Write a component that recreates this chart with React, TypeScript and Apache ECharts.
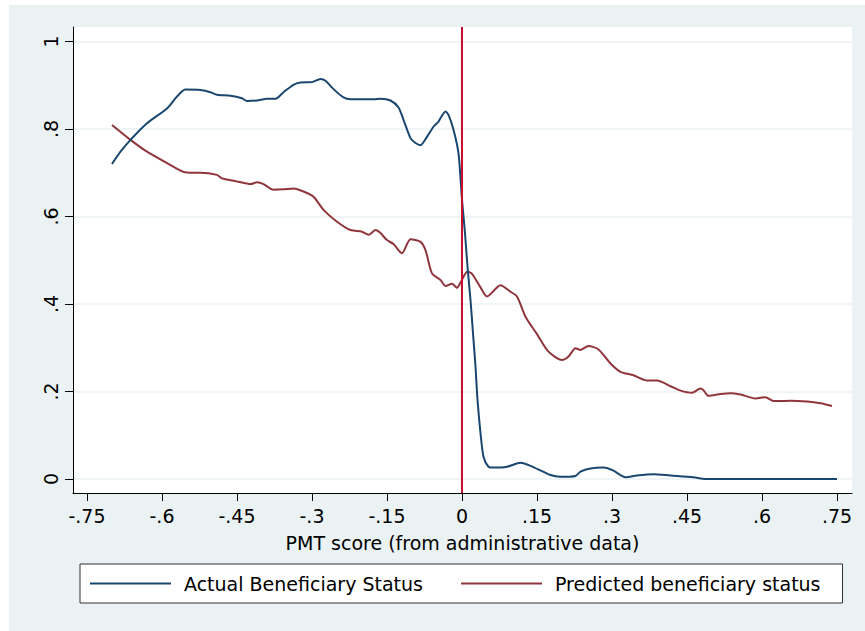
import React, { useEffect, useRef } from "react";
import * as echarts from "echarts";

// Tick positions
const xTicks = [-0.75, -0.6, -0.45, -0.3, -0.15, 0, 0.15, 0.3, 0.45, 0.6, 0.75];
const yTicks = [0, 0.2, 0.4, 0.6, 0.8, 1];
const cutoff = 0;

const seriesNames = ["Actual Beneficiary Status", "Predicted beneficiary status"];

// Actual beneficiary status (PMT score, share)
const actualX = [
  -0.700, -0.683, -0.663, -0.630, -0.590, -0.570, -0.553, -0.523, -0.503, -0.490,
  -0.463, -0.440, -0.430, -0.410, -0.390, -0.373, -0.357, -0.337, -0.323, -0.300,
  -0.283, -0.273, -0.257, -0.237, -0.223, -0.197, -0.177, -0.163, -0.143, -0.127,
  -0.117, -0.103, -0.093, -0.083, -0.070, -0.057, -0.047, -0.033, -0.027, -0.017,
  -0.007, 0.000, 0.006, 0.011, 0.017, 0.022, 0.027, 0.031, 0.037, 0.043,
  0.053, 0.063, 0.090, 0.117, 0.137, 0.177, 0.197, 0.227, 0.237, 0.257,
  0.283, 0.303, 0.327, 0.350, 0.383, 0.417, 0.463, 0.487, 0.750,
];
const actualY = [
  0.720, 0.748, 0.775, 0.813, 0.847, 0.874, 0.890, 0.889, 0.884, 0.878,
  0.876, 0.870, 0.864, 0.865, 0.869, 0.869, 0.884, 0.901, 0.906, 0.907,
  0.914, 0.910, 0.891, 0.872, 0.868, 0.868, 0.868, 0.869, 0.865, 0.849,
  0.821, 0.779, 0.768, 0.763, 0.782, 0.805, 0.817, 0.840, 0.832, 0.798,
  0.744, 0.638, 0.562, 0.485, 0.409, 0.333, 0.257, 0.181, 0.105, 0.051,
  0.028, 0.026, 0.028, 0.037, 0.030, 0.009, 0.005, 0.007, 0.017, 0.024,
  0.026, 0.019, 0.004, 0.008, 0.011, 0.008, 0.004, 0.000, 0.000,
];

// Predicted beneficiary status
const predX = [
  -0.700, -0.663, -0.630, -0.590, -0.557, -0.537, -0.523, -0.490, -0.480, -0.463,
  -0.450, -0.423, -0.410, -0.397, -0.377, -0.357, -0.337, -0.317, -0.297, -0.277,
  -0.250, -0.223, -0.200, -0.187, -0.173, -0.163, -0.150, -0.137, -0.120, -0.103,
  -0.083, -0.073, -0.060, -0.043, -0.033, -0.020, -0.010, -0.003, 0.011, 0.020,
  0.037, 0.050, 0.077, 0.097, 0.110, 0.127, 0.150, 0.173, 0.200, 0.213,
  0.227, 0.237, 0.253, 0.273, 0.297, 0.317, 0.343, 0.370, 0.390, 0.417,
  0.437, 0.460, 0.477, 0.483, 0.493, 0.517, 0.537, 0.557, 0.587, 0.607,
  0.623, 0.657, 0.690, 0.717, 0.740,
];
const predY = [
  0.809, 0.775, 0.748, 0.722, 0.702, 0.700, 0.700, 0.695, 0.687, 0.683,
  0.680, 0.674, 0.678, 0.674, 0.661, 0.662, 0.664, 0.657, 0.645, 0.615,
  0.588, 0.569, 0.565, 0.558, 0.569, 0.562, 0.546, 0.537, 0.516, 0.548,
  0.542, 0.523, 0.470, 0.455, 0.441, 0.446, 0.437, 0.449, 0.474, 0.469,
  0.438, 0.417, 0.443, 0.428, 0.417, 0.371, 0.331, 0.291, 0.272, 0.280,
  0.299, 0.295, 0.304, 0.296, 0.264, 0.245, 0.237, 0.225, 0.225, 0.212,
  0.202, 0.197, 0.207, 0.203, 0.190, 0.194, 0.196, 0.193, 0.184, 0.187,
  0.178, 0.179, 0.177, 0.173, 0.167,
];

const FONT = "DejaVu Sans";
const fmt = (v: number) => {
  if (Math.abs(v) < 1e-9) return "0";
  const s = String(+v.toFixed(2));
  return s.replace(/^(-?)0\./, "$1.");
};

export default function App() {
  const ref = useRef<HTMLDivElement>(null);
  useEffect(() => {
    if (!ref.current) return;
    const chart = echarts.init(ref.current, null, { renderer: "svg" });
    const zip = (xs: number[], ys: number[]) => xs.map((x, i) => [x, ys[i]]);
    chart.setOption({
      animation: false,
      backgroundColor: "#EAF2F3",
      grid: {
        left: 64,
        right: 13,
        top: 22,
        bottom: 138,
        show: true,
        backgroundColor: "#FFFFFF",
        borderWidth: 0,
      },
      xAxis: {
        type: "value",
        min: -0.778,
        max: 0.78,
        name: "PMT score (from administrative data)",
        nameLocation: "middle",
        nameGap: 40,
        nameTextStyle: { fontFamily: FONT, fontSize: 19, color: "#000" },
        axisLine: { show: true, onZero: false, lineStyle: { color: "#000", width: 1 } },
        axisTick: { show: true, length: 8, customValues: xTicks, lineStyle: { color: "#000" } },
        axisLabel: {
          customValues: xTicks,
          formatter: fmt,
          fontFamily: FONT,
          fontSize: 19,
          color: "#000",
          margin: 13,
        },
        splitLine: { show: false },
      },
      yAxis: {
        type: "value",
        min: -0.032,
        max: 1.033,
        axisLine: { show: true, onZero: false, lineStyle: { color: "#000", width: 1 } },
        axisTick: { show: true, length: 8, customValues: yTicks, lineStyle: { color: "#000" } },
        axisLabel: {
          customValues: yTicks,
          formatter: fmt,
          rotate: 90,
          fontFamily: FONT,
          fontSize: 19,
          color: "#000",
          margin: 13,
        },
        splitLine: { show: true, lineStyle: { color: "#EAF2F3", width: 1.5 } },
      },
      legend: {
        show: true,
        left: 71,
        top: 559,
        orient: "horizontal",
        backgroundColor: "#FFFFFF",
        borderColor: "#333",
        borderWidth: 1,
        borderRadius: 0,
        padding: [10, 22, 10, 10],
        itemGap: 38,
        itemWidth: 81,
        itemHeight: 2,
        icon: "rect",
        textStyle: { fontFamily: FONT, fontSize: 19, color: "#000", padding: [0, 0, 0, 8] },
        data: seriesNames,
      },
      series: [
        {
          name: seriesNames[0],
          type: "line",
          data: zip(actualX, actualY),
          symbol: "none",
          showSymbol: false,
          smooth: 0.25,
          lineStyle: { color: "#1A476F", width: 2 },
          itemStyle: { color: "#1A476F" },
          z: 3,
          markLine: {
            silent: true,
            symbol: ["none", "none"],
            label: { show: false },
            lineStyle: { color: "#C8102E", width: 2, type: "solid" },
            data: [{ xAxis: cutoff }],
            z: 5,
          },
        },
        {
          name: seriesNames[1],
          type: "line",
          data: zip(predX, predY),
          symbol: "none",
          showSymbol: false,
          smooth: 0.25,
          lineStyle: { color: "#90353B", width: 2 },
          itemStyle: { color: "#90353B" },
          z: 2,
        },
      ],
    });
    return () => chart.dispose();
  }, []);
  return (
    <div
      ref={ref}
      style={{ position: "absolute", left: 9, top: 5, width: 856, height: 626 }}
    />
  );
}
